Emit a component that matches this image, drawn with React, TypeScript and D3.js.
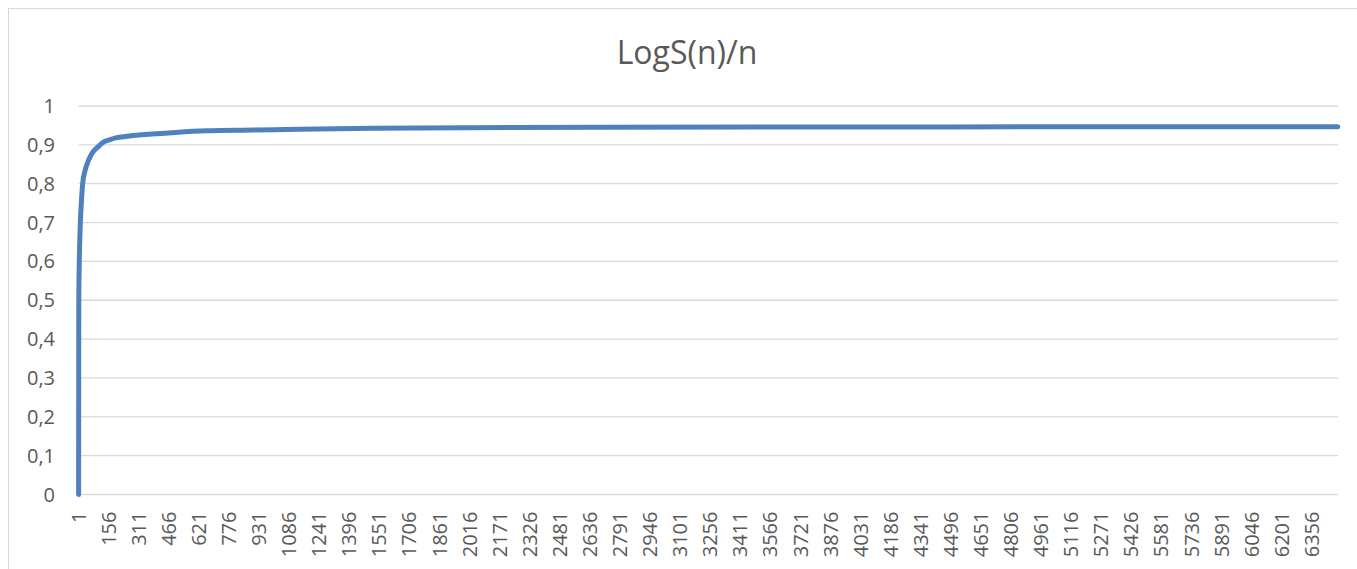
import React from "react";
import * as d3 from "d3";

const title = "LogS(n)/n";
const categoryCount = 6490;
const labelStep = 155;
const yTicks = [0, 0.1, 0.2, 0.3, 0.4, 0.5, 0.6, 0.7, 0.8, 0.9, 1];
const sampleN = [1, 2, 3, 5, 10, 15, 22, 35, 52, 75, 104, 123, 160, 192, 250, 330, 500, 660, 900, 1140, 1515, 2000, 2685, 3500, 4500, 5500, 6490];
const sampleV = [0, 0.5, 0.55, 0.61, 0.7, 0.75, 0.8, 0.835, 0.86, 0.882, 0.896, 0.905, 0.913, 0.918, 0.922, 0.926, 0.932, 0.936, 0.938, 0.94, 0.9425, 0.944, 0.9452, 0.9458, 0.9462, 0.9465, 0.9467];

const W = 1357;
const H = 569;
const left = 78.5;
const right = 1338;
const top = 106;
const bottom = 494.5;
const font = "'Open Sans', 'Noto Sans', sans-serif";

export default function App() {
  const x = d3.scaleLinear().domain([0.5, categoryCount + 0.5]).range([left, right]);
  const y = d3.scaleLinear().domain([0, 1]).range([bottom, top]);
  const labels: number[] = [];
  for (let n = 1; n <= categoryCount; n += labelStep) labels.push(n);
  const pts = sampleN.map((n, i) => [n, sampleV[i]] as [number, number]);
  const line = d3
    .line<[number, number]>()
    .x((d) => x(d[0]))
    .y((d) => y(d[1]))
    .curve(d3.curveMonotoneX);
  const fmt = (v: number) => (v === 0 || v === 1 ? String(v) : v.toFixed(1).replace(".", ","));
  return (
    <svg
      width={W}
      height={H}
      style={{ position: "absolute", left: 0, top: 0, display: "block", background: "#fff" }}
    >
      <rect x={8.5} y={8.5} width={1400} height={600} fill="#fff" stroke="#d9d9d9" strokeWidth={1} />
      <text x={687} y={63.5} textAnchor="middle" fontFamily={font} fontSize={32} fill="#595959">
        {title}
      </text>
      {yTicks.map((t) => (
        <g key={t}>
          <line x1={left} x2={right} y1={y(t)} y2={y(t)} stroke="#d9d9d9" strokeWidth={1.3} />
          <text x={55} y={y(t)} dy="0.35em" textAnchor="end" fontFamily={font} fontSize={20} fill="#595959">
            {fmt(t)}
          </text>
        </g>
      ))}
      {labels.map((n) => (
        <text
          key={n}
          transform={`translate(${x(n)},511.5) rotate(-90)`}
          dy="0.35em"
          textAnchor="end"
          fontFamily={font}
          fontSize={20}
          fill="#595959"
        >
          {n}
        </text>
      ))}
      <path d={line(pts) ?? ""} fill="none" stroke="#4F81BD" strokeWidth={5} strokeLinejoin="round" strokeLinecap="round" />
    </svg>
  );
}
